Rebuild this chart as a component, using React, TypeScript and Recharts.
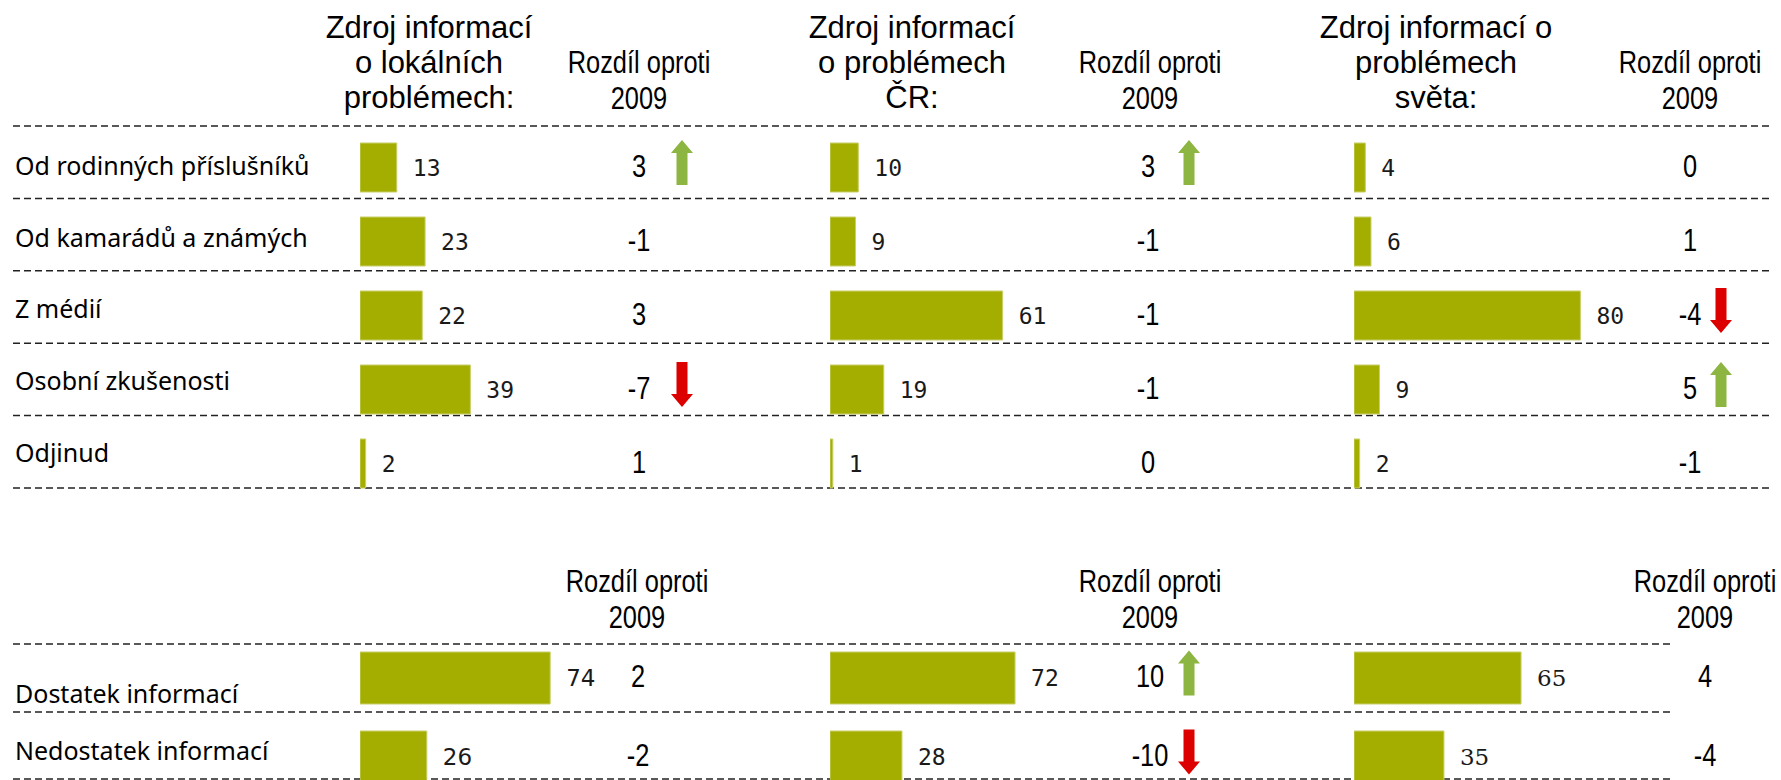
import React from 'react';
import { BarChart, Bar, XAxis, YAxis, LabelList } from 'recharts';

// --- top block: zdroj informací ---
const sourceCategories = [
  'Od rodinných příslušníků',
  'Od kamarádů a známých',
  'Z médií',
  'Osobní zkušenosti',
  'Odjinud',
];
const localValues = [13, 23, 22, 39, 2];
const czValues = [10, 9, 61, 19, 1];
const worldValues = [4, 6, 80, 9, 2];
const localDiff = [3, -1, 3, -7, 1];
const czDiff = [3, -1, -1, -1, 0];
const worldDiff = [0, 1, -4, 5, -1];
const localArrows = ['up', '', '', 'down', ''];
const czArrows = ['up', '', '', '', ''];
const worldArrows = ['', '', 'down', 'up', ''];

// --- bottom block: dostatek informací ---
const infoCategories = ['Dostatek informací', 'Nedostatek informací'];
const infoLocalValues = [74, 26];
const infoCzValues = [72, 28];
const infoWorldValues = [65, 35];
const infoLocalDiff = [2, -2];
const infoCzDiff = [10, -10];
const infoWorldDiff = [4, -4];
const infoLocalArrows = ['', ''];
const infoCzArrows = ['up', 'down'];
const infoWorldArrows = ['', ''];

const headerLocal = ['Zdroj informací', 'o lokálních', 'problémech:'];
const headerCz = ['Zdroj informací', 'o problémech', 'ČR:'];
const headerWorld = ['Zdroj informací o', 'problémech', 'světa:'];
const diffHeader = ['Rozdíl oproti', '2009'];

const BAR = '#a4ae00';
const GREEN = '#8db541';
const RED = '#dc0000';
const SANS = "'Liberation Sans', Arial, sans-serif";

type Row = { name: string; value: number; diff: number; arrow: string };

const makeRows = (names: string[], values: number[], diffs: number[], arrows: string[]): Row[] =>
  names.map((name, i) => ({ name, value: values[i], diff: diffs[i], arrow: arrows[i] }));

const Narrow = ({ x, y, size = 31, children }: { x: number; y: number; size?: number; children: React.ReactNode }) => (
  <text
    transform={`translate(${x} ${y}) scale(0.82 1)`}
    textAnchor="middle"
    fontFamily={SANS}
    fontSize={size}
    fill="#000"
  >
    {children}
  </text>
);

const Arrow = ({ cx, cy, dir }: { cx: number; cy: number; dir: string }) => {
  const s = dir === 'up' ? 1 : -1;
  const half = 22.5;
  const pts = [
    [cx - 5.5, cy + s * half],
    [cx - 5.5, cy - s * (half - 13)],
    [cx - 11, cy - s * (half - 13)],
    [cx, cy - s * half],
    [cx + 11, cy - s * (half - 13)],
    [cx + 5.5, cy - s * (half - 13)],
    [cx + 5.5, cy + s * half],
  ];
  return <polygon points={pts.map((p) => p.join(',')).join(' ')} fill={dir === 'up' ? GREEN : RED} />;
};

type PanelProps = {
  rows: Row[];
  left: number;
  top: number;
  width: number;
  band: number;
  barSize: number;
  pxPerUnit: number;
  diffX: number;
  arrowX: number;
  labelFont: string;
};

const Panel = ({ rows, left, top, width, band, barSize, pxPerUnit, diffX, arrowX, labelFont }: PanelProps) => {
  const height = band * rows.length;
  const renderDiff = (props: any) => {
    const vb = props.viewBox ?? props;
    const cy = vb.y + vb.height / 2;
    const row = rows[props.index];
    return (
      <g>
        <Narrow x={diffX} y={cy + 9}>{String(props.value)}</Narrow>
        {row && row.arrow ? <Arrow cx={arrowX} cy={cy - 5} dir={row.arrow} /> : null}
      </g>
    );
  };
  return (
    <div style={{ position: 'absolute', left, top }}>
      <BarChart
        width={width}
        height={height}
        data={rows}
        layout="vertical"
        margin={{ top: 0, right: 0, bottom: 0, left: 0 }}
      >
        <XAxis type="number" hide domain={[0, width / pxPerUnit]} allowDataOverflow />
        <YAxis type="category" dataKey="name" hide />
        <Bar dataKey="value" fill={BAR} stroke="#c9cf6a" strokeWidth={1} barSize={barSize} isAnimationActive={false}>
          <LabelList
            dataKey="value"
            position="right"
            offset={16}
            fill="#1a1a1a"
            fontFamily={labelFont}
            fontSize={23}
          />
          <LabelList dataKey="diff" content={renderDiff} />
        </Bar>
      </BarChart>
    </div>
  );
};

const MONO = "'DejaVu Sans Mono', monospace";

const topRowsLocal = makeRows(sourceCategories, localValues, localDiff, localArrows);
const topRowsCz = makeRows(sourceCategories, czValues, czDiff, czArrows);
const topRowsWorld = makeRows(sourceCategories, worldValues, worldDiff, worldArrows);
const botRowsLocal = makeRows(infoCategories, infoLocalValues, infoLocalDiff, infoLocalArrows);
const botRowsCz = makeRows(infoCategories, infoCzValues, infoCzDiff, infoCzArrows);
const botRowsWorld = makeRows(infoCategories, infoWorldValues, infoWorldDiff, infoWorldArrows);

const topLines = [126, 198.4, 270.8, 343.2, 415.6, 488];
const bottomLines = [644, 712, 779];

const App = () => (
  <div style={{ position: 'relative', width: 1781, height: 780, overflow: 'hidden', background: '#fff' }}>
    <style>{'body{margin:0}'}</style>
    <svg width={1781} height={780} style={{ position: 'absolute', left: 0, top: 0 }}>
      {topLines.map((y) => (
        <line key={`t${y}`} x1={13} x2={1773} y1={y} y2={y} stroke="#222" strokeWidth={1.5} strokeDasharray="7 4" />
      ))}
      {bottomLines.map((y) => (
        <line key={`b${y}`} x1={13} x2={1670} y1={y} y2={y} stroke="#222" strokeWidth={1.5} strokeDasharray="7 4" />
      ))}
      {[
        { lines: headerLocal, cx: 429 },
        { lines: headerCz, cx: 912 },
        { lines: headerWorld, cx: 1436 },
      ].map((h) =>
        h.lines.map((t, i) => (
          <text key={`${h.cx}-${i}`} x={h.cx} y={38 + i * 35} textAnchor="middle" fontFamily={SANS} fontSize={31} fill="#000">
            {t}
          </text>
        ))
      )}
      {[639, 1150, 1690].map((cx) =>
        diffHeader.map((t, i) => (
          <Narrow key={`dt${cx}-${i}`} x={cx} y={73 + i * 36}>{t}</Narrow>
        ))
      )}
      {[637, 1150, 1705].map((cx) =>
        diffHeader.map((t, i) => (
          <Narrow key={`db${cx}-${i}`} x={cx} y={592 + i * 36}>{t}</Narrow>
        ))
      )}
      {sourceCategories.map((c, i) => (
        <text key={c} x={15} y={175 + i * 71.7} fontFamily="'Noto Sans', sans-serif" fontSize={25} fill="#000">
          {c}
        </text>
      ))}
      {infoCategories.map((c, i) => (
        <text key={c} x={15} y={703 + i * 57} fontFamily="'Noto Sans', sans-serif" fontSize={25} fill="#000">
          {c}
        </text>
      ))}
    </svg>

    <Panel rows={topRowsLocal} left={360} top={129.5} width={360} band={74} barSize={49} pxPerUnit={2.83} diffX={279} arrowX={322} labelFont={MONO} />
    <Panel rows={topRowsCz} left={830} top={129.5} width={420} band={74} barSize={49} pxPerUnit={2.83} diffX={318} arrowX={359} labelFont={MONO} />
    <Panel rows={topRowsWorld} left={1354} top={129.5} width={427} band={74} barSize={49} pxPerUnit={2.83} diffX={336} arrowX={367} labelFont={MONO} />

    <Panel rows={botRowsLocal} left={360} top={638} width={360} band={79} barSize={52} pxPerUnit={2.57} diffX={278} arrowX={322} labelFont="'DejaVu Sans', sans-serif" />
    <Panel rows={botRowsCz} left={830} top={638} width={420} band={79} barSize={52} pxPerUnit={2.57} diffX={320} arrowX={359} labelFont={MONO} />
    <Panel rows={botRowsWorld} left={1354} top={638} width={427} band={79} barSize={52} pxPerUnit={2.57} diffX={351} arrowX={367} labelFont="'DejaVu Serif', serif" />
  </div>
);

export default App;
